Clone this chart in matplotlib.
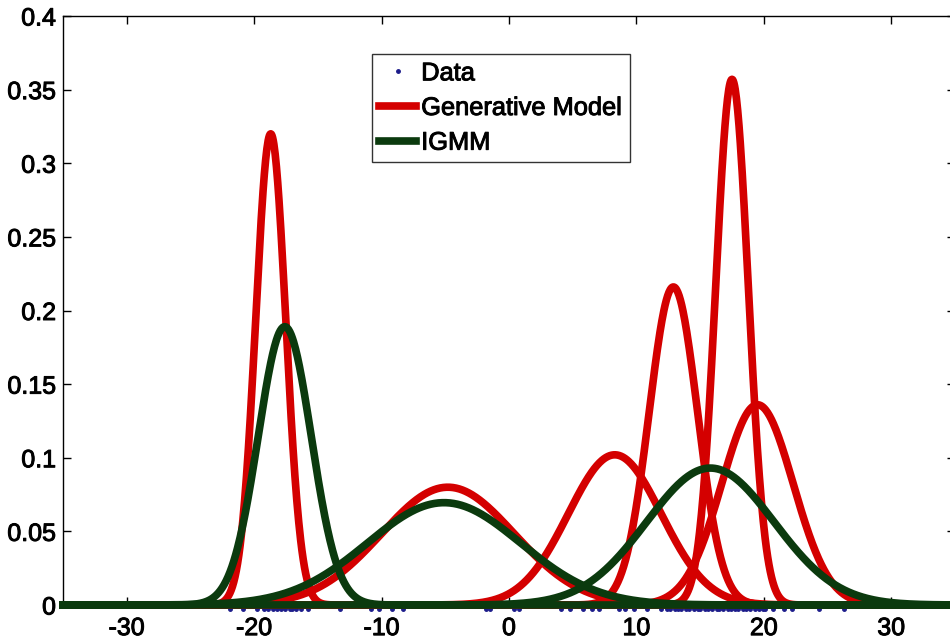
import numpy as np
import matplotlib
matplotlib.use("Agg")
import matplotlib.pyplot as plt
import matplotlib.transforms as mtransforms
import matplotlib.patheffects as pe

# mixture components: centre, width, peak height
gen_means = [-18.7, -4.8, 8.3, 12.9, 17.5, 19.5]
gen_sigmas = [1.18, 5.2, 3.65, 1.9, 1.28, 2.8]
gen_peaks = [0.320, 0.080, 0.102, 0.216, 0.357, 0.136]

igmm_means = [-17.6, -5.1, 15.8]
igmm_sigmas = [2.08, 6.0, 5.0]
igmm_peaks = [0.189, 0.0695, 0.093]

# observed samples (drawn along the baseline)
data_x = [-21.9, -20.9, -19.8, -19.2, -18.9, -18.5, -18.2, -17.9, -17.6, -17.2,
          -17.0, -16.7, -16.3, -15.8, -13.3, -10.8, -10.2, -9.2, -8.3,
          -1.8, -1.5, 0.4, 0.8, 4.1, 4.8, 5.8, 6.5, 7.1, 8.6, 9.1, 9.8, 10.8,
          11.9, 12.4, 12.6, 13.0, 13.3, 13.5, 13.9, 14.1, 14.5, 14.8, 15.0,
          15.4, 15.6, 15.9, 16.3, 16.5, 16.8, 17.2, 17.4, 17.7, 18.0, 18.4,
          18.6, 18.9, 19.3, 19.6, 19.9, 20.1, 20.7, 21.6, 22.2, 24.3, 26.3]
data_y = [0.0] * len(data_x)

xticks = [-30, -20, -10, 0, 10, 20, 30]
yticks = [0, 0.05, 0.1, 0.15, 0.2, 0.25, 0.3, 0.35, 0.4]
ytick_labels = ["0", "0.05", "0.1", "0.15", "0.2", "0.25", "0.3", "0.35", "0.4"]

red = "#d40000"
green = "#0b3a0e"

plt.rcParams["font.family"] = ["Liberation Sans", "DejaVu Sans"]
plt.rcParams["axes.unicode_minus"] = False

# scanned MATLAB text looks a bit heavier than plain Arial
heavy = [pe.withStroke(linewidth=0.7, foreground="black")]

fig = plt.figure(figsize=(9.5, 6.43), dpi=100)
ax = fig.add_axes([63 / 950, 38 / 643, 892 / 950, 589 / 643])

xs = np.linspace(-35, 35, 1401)

# data dots sit just under the thick baseline
dot_tr = mtransforms.offset_copy(ax.transData, fig=fig, x=0, y=-4, units="dots")
ax.plot(data_x, data_y, ".", color="#1c1c8a", markersize=5, transform=dot_tr,
        clip_on=False, zorder=1, label="Data")

for i, (m, s, h) in enumerate(zip(gen_means, gen_sigmas, gen_peaks)):
    ys = h * np.exp(-(xs - m) ** 2 / (2 * s ** 2))
    ax.plot(xs, ys, color=red, lw=5.5, clip_on=False, zorder=2,
            label="Generative Model" if i == 0 else None)

for i, (m, s, h) in enumerate(zip(igmm_means, igmm_sigmas, igmm_peaks)):
    ys = h * np.exp(-(xs - m) ** 2 / (2 * s ** 2))
    ax.plot(xs, ys, color=green, lw=5.5, clip_on=False, zorder=3,
            label="IGMM" if i == 0 else None)

ax.set_xlim(-35, 35)
ax.set_ylim(0, 0.4)
ax.set_xticks(xticks)
ax.set_yticks(yticks)
ax.set_yticklabels(ytick_labels)
ax.tick_params(direction="in", length=6, width=1, top=True, right=True,
               labelsize=18)
ax.tick_params(axis="y", pad=5)
ax.tick_params(axis="x", pad=8)
for lab in ax.get_xticklabels() + ax.get_yticklabels():
    lab.set_path_effects(heavy)
for sp in ax.spines.values():
    sp.set_linewidth(1)

leg = ax.legend(loc="upper left", bbox_to_anchor=(0.346, 0.936), borderaxespad=0,
                fontsize=18.3, frameon=True, fancybox=False, edgecolor="black",
                handlelength=1.45, handletextpad=0.2, labelspacing=0.42,
                borderpad=0.3, numpoints=1, markerscale=1.0)
leg.get_frame().set_linewidth(1)
for t in leg.get_texts():
    t.set_path_effects(heavy)

fig.savefig("out.png", dpi=100)
